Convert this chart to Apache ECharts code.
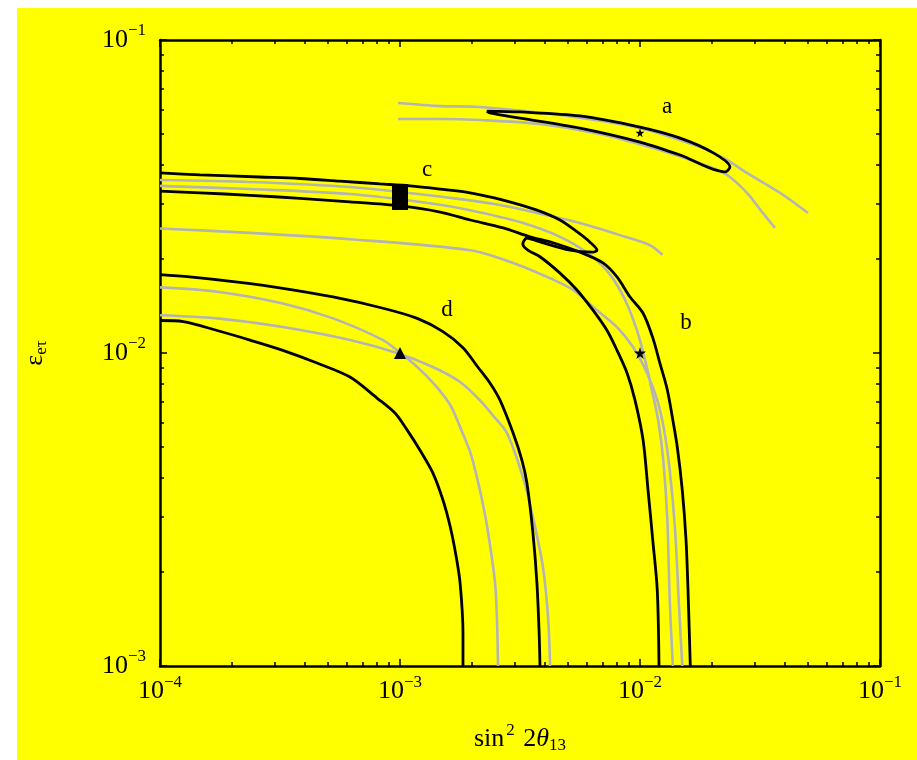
<!DOCTYPE html>
<html>
<head>
<meta charset="utf-8">
<title>sin^2 2theta13 vs eps_etau</title>
<script src="https://cdn.jsdelivr.net/npm/echarts@6/dist/echarts.min.js"></script>
<style>
    html, body { margin: 0; padding: 0; background: #fff; }
    #main { width: 917px; height: 760px; }
</style>
</head>
<body>
<div id="main"></div>
<script>
// contours, points are [sin^2 2theta13, eps_etau]
var aBlack = [[2.30e-3, 5.93e-2], [3.16e-3, 5.89e-2], [5.62e-3, 5.72e-2], [1.0e-2, 5.27e-2], [1.47e-2, 4.86e-2],
    [2.02e-2, 4.36e-2], [2.37e-2, 3.93e-2], [2.26e-2, 3.79e-2], [1.47e-2, 4.29e-2], [1.0e-2, 4.72e-2],
    [5.62e-3, 5.23e-2], [3.16e-3, 5.63e-2], [2.37e-3, 5.85e-2], [2.30e-3, 5.93e-2]];
var aGray1 = [[9.81e-4, 6.29e-2], [1.47e-3, 6.15e-2], [2.15e-3, 6.11e-2], [4.64e-3, 5.76e-2], [1.0e-2, 5.23e-2],
    [1.78e-2, 4.55e-2], [2.30e-2, 4.14e-2], [2.79e-2, 3.76e-2], [3.83e-2, 3.25e-2], [5.01e-2, 2.80e-2]];
var aGray2 = [[9.81e-4, 5.59e-2], [1.47e-3, 5.59e-2], [2.15e-3, 5.55e-2], [3.83e-3, 5.39e-2], [6.81e-3, 5.01e-2],
    [1.21e-2, 4.45e-2], [1.96e-2, 3.93e-2], [2.30e-2, 3.71e-2], [2.79e-2, 3.25e-2], [3.25e-2, 2.80e-2], [3.65e-2, 2.51e-2]];

var cbBlack1 = [[1.0e-4, 3.76e-2], [1.47e-4, 3.71e-2], [2.61e-4, 3.65e-2], [3.83e-4, 3.61e-2], [5.62e-4, 3.54e-2],
    [8.25e-4, 3.47e-2], [1.10e-3, 3.42e-2], [1.47e-3, 3.34e-2], [1.96e-3, 3.25e-2], [2.69e-3, 3.08e-2],
    [3.72e-3, 2.86e-2], [4.64e-3, 2.66e-2], [5.46e-3, 2.44e-2], [6.19e-3, 2.26e-2], [6.62e-3, 2.13e-2],
    [6.37e-3, 2.10e-2], [5.11e-3, 2.13e-2], [3.72e-3, 2.28e-2], [3.38e-3, 2.33e-2], [3.25e-3, 2.23e-2],
    [3.41e-3, 2.13e-2], [3.83e-3, 2.03e-2], [4.64e-3, 1.80e-2], [5.46e-3, 1.59e-2], [6.37e-3, 1.37e-2],
    [7.29e-3, 1.18e-2], [8.02e-3, 1.02e-2], [8.83e-3, 8.63e-3], [9.53e-3, 7.07e-3], [1.03e-2, 5.27e-3],
    [1.08e-2, 3.65e-3], [1.13e-2, 2.53e-3], [1.18e-2, 1.75e-3], [1.20e-2, 1.0e-3]];
var cbBlack2 = [[1.0e-4, 3.29e-2], [1.47e-4, 3.25e-2], [2.37e-4, 3.19e-2], [3.83e-4, 3.12e-2], [6.19e-4, 3.04e-2],
    [1.0e-3, 2.95e-2], [1.47e-3, 2.82e-2], [1.96e-3, 2.66e-2], [2.69e-3, 2.51e-2], [3.48e-3, 2.35e-2],
    [4.34e-3, 2.25e-2], [5.62e-3, 2.10e-2], [7.01e-3, 1.94e-2], [8.02e-3, 1.75e-2], [9.09e-3, 1.51e-2],
    [1.03e-2, 1.34e-2], [1.13e-2, 1.12e-2], [1.21e-2, 9.29e-3], [1.30e-2, 7.62e-3], [1.37e-2, 6.11e-3],
    [1.43e-2, 5.01e-3], [1.50e-2, 3.65e-3], [1.555e-2, 2.53e-3], [1.585e-2, 1.75e-3], [1.62e-2, 1.0e-3]];
var cbGray1 = [[1.0e-4, 3.57e-2], [2.37e-4, 3.52e-2], [6.19e-4, 3.39e-2], [1.62e-3, 3.13e-2], [2.61e-3, 2.97e-2],
    [3.72e-3, 2.80e-2], [5.62e-3, 2.60e-2], [8.25e-3, 2.38e-2], [1.10e-2, 2.21e-2], [1.24e-2, 2.06e-2]];
var cbGray2 = [[1.0e-4, 3.42e-2], [2.37e-4, 3.34e-2], [6.19e-4, 3.22e-2], [1.33e-3, 3.01e-2], [1.96e-3, 2.86e-2],
    [3.16e-3, 2.62e-2], [4.64e-3, 2.35e-2], [6.19e-3, 2.06e-2], [7.50e-3, 1.78e-2], [8.66e-3, 1.48e-2],
    [9.72e-3, 1.18e-2], [1.05e-2, 9.50e-3], [1.12e-2, 7.62e-3], [1.19e-2, 6.11e-3], [1.25e-2, 4.55e-3],
    [1.30e-2, 2.93e-3], [1.33e-2, 1.62e-3], [1.37e-2, 1.0e-3]];
var cbGray3 = [[1.0e-4, 2.50e-2], [2.37e-4, 2.42e-2], [6.19e-4, 2.31e-2], [1.96e-3, 2.13e-2], [2.96e-3, 1.94e-2],
    [4.10e-3, 1.75e-2], [5.26e-3, 1.59e-2], [6.62e-3, 1.37e-2], [8.02e-3, 1.21e-2], [9.35e-3, 1.045e-2],
    [1.07e-2, 8.63e-3], [1.18e-2, 7.07e-3], [1.26e-2, 5.68e-3], [1.33e-2, 4.23e-3], [1.40e-2, 2.72e-3],
    [1.45e-2, 1.62e-3], [1.50e-2, 1.0e-3]];

var dBlack1 = [[1.0e-4, 1.78e-2], [1.33e-4, 1.75e-2], [2.02e-4, 1.69e-2], [3.25e-4, 1.61e-2], [5.26e-4, 1.51e-2],
    [8.50e-4, 1.39e-2], [1.18e-3, 1.29e-2], [1.51e-3, 1.17e-2], [1.83e-3, 1.04e-2], [2.11e-3, 9.02e-3],
    [2.37e-3, 8.02e-3], [2.61e-3, 7.07e-3], [2.96e-3, 5.55e-3], [3.22e-3, 4.55e-3], [3.38e-3, 3.84e-3],
    [3.58e-3, 2.66e-3], [3.72e-3, 1.84e-3], [3.80e-3, 1.27e-3], [3.83e-3, 1.0e-3]];
var dBlack2 = [[1.0e-4, 1.27e-2], [1.25e-4, 1.26e-2], [1.73e-4, 1.18e-2], [2.37e-4, 1.10e-2], [3.25e-4, 1.02e-2],
    [4.51e-4, 9.29e-3], [6.19e-4, 8.38e-3], [8.02e-4, 7.18e-3], [9.53e-4, 6.43e-3], [1.07e-3, 5.68e-3],
    [1.21e-3, 4.90e-3], [1.37e-3, 4.14e-3], [1.51e-3, 3.39e-3], [1.62e-3, 2.78e-3], [1.71e-3, 2.26e-3],
    [1.78e-3, 1.84e-3], [1.83e-3, 1.27e-3], [1.83e-3, 1.0e-3]];
var dGray1 = [[1.0e-4, 1.62e-2], [1.73e-4, 1.57e-2], [3.25e-4, 1.44e-2], [5.26e-4, 1.29e-2], [8.50e-4, 1.10e-2],
    [9.72e-4, 1.02e-2], [1.18e-3, 9.02e-3], [1.40e-3, 7.90e-3], [1.62e-3, 6.82e-3], [1.78e-3, 5.80e-3],
    [1.96e-3, 4.83e-3], [2.09e-3, 4.02e-3], [2.22e-3, 3.27e-3], [2.33e-3, 2.66e-3], [2.49e-3, 1.84e-3],
    [2.54e-3, 1.35e-3], [2.56e-3, 1.0e-3]];
var dGray2 = [[1.0e-4, 1.32e-2], [1.73e-4, 1.29e-2], [3.25e-4, 1.21e-2], [6.19e-4, 1.10e-2], [9.72e-4, 1.0e-2],
    [1.37e-3, 9.02e-3], [1.78e-3, 8.08e-3], [2.15e-3, 7.07e-3], [2.49e-3, 6.20e-3], [2.79e-3, 5.55e-3],
    [3.25e-3, 4.02e-3], [3.58e-3, 2.99e-3], [3.94e-3, 2.07e-3], [4.14e-3, 1.43e-3], [4.22e-3, 1.0e-3]];

// best-fit points
var markerNames = ['a', 'b', 'c', 'd'];
var markerX = [1e-2, 1e-2, 1e-3, 1e-3];
var markerY = [5.05e-2, 1e-2, 3.15e-2, 1e-2];

// ticks
var xDecades = [1e-4, 1e-3, 1e-2, 1e-1];
var yDecades = [1e-3, 1e-2, 1e-1];

var black = '#000000';
var gray = '#b4b4b4';
var serif = 'Liberation Serif';
var star = 'path://M50,0 L61,35 L98,35 L68,57 L79,91 L50,70 L21,91 L32,57 L2,35 L39,35 Z';

var markerStyle = {
    a: {symbol: star, size: 9, offset: [27, -26]},
    b: {symbol: star, size: 12, offset: [46, -30]},
    c: {symbol: 'rect', size: [16, 26], offset: [27, -27]},
    d: {symbol: 'triangle', size: 12, offset: [47, -43]}
};

function minorTicks(dec) {
    var out = [];
    for (var i = 0; i < dec.length - 1; i++) {
        for (var k = 2; k <= 9; k++) {
            out.push(dec[i] * k);
        }
    }
    return out;
}

var labelRich = {
    b: {fontFamily: serif, fontSize: 26, color: '#000'},
    s: {fontFamily: serif, fontSize: 17, color: '#000', padding: [0, 0, 18, 0]}
};

function decadeLabel(v) {
    return '{b|10}{s|\u2212' + Math.round(-Math.log10(v)) + '}';
}

function axis(pos, min, max, ticks, len, label) {
    var a = {
        type: 'log',
        logBase: 10,
        min: min,
        max: max,
        position: pos,
        splitLine: {show: false},
        axisLine: {show: label !== undefined, onZero: false, lineStyle: {color: black, width: 2.5}},
        axisTick: {show: true, inside: true, length: len, customValues: ticks, lineStyle: {color: black, width: 1.5}},
        axisLabel: {show: false}
    };
    if (label) {
        a.axisLabel = {
            show: true,
            customValues: ticks,
            margin: pos === 'bottom' ? 8 : 14,
            formatter: decadeLabel,
            rich: labelRich
        };
    }
    return a;
}

var xMajor = axis('bottom', 1e-4, 1e-1, xDecades, 7, true);
xMajor.name = '{t|sin}{sup|2}{t| 2}{it|\u03b8}{sub|13}';
xMajor.nameLocation = 'middle';
xMajor.nameGap = 56;
xMajor.nameTextStyle = {
    rich: {
        t: {fontFamily: serif, fontSize: 26, color: '#000'},
        it: {fontFamily: serif, fontSize: 26, fontStyle: 'italic', color: '#000'},
        sup: {fontFamily: serif, fontSize: 17, color: '#000', padding: [0, 2, 18, 2]},
        sub: {fontFamily: serif, fontSize: 17, color: '#000', padding: [12, 0, 0, 0]}
    }
};

var yMajor = axis('left', 1e-3, 1e-1, yDecades, 7, true);
yMajor.name = '{t|\u03b5}{sub|e\u03c4}';
yMajor.nameLocation = 'middle';
yMajor.nameRotate = 90;
yMajor.nameGap = 110;
yMajor.nameTextStyle = {
    rich: {
        t: {fontFamily: serif, fontSize: 26, color: '#000'},
        sub: {fontFamily: serif, fontSize: 17, color: '#000', padding: [12, 0, 0, 0]}
    }
};

var lines = [
    [aGray1, gray], [aGray2, gray],
    [cbGray1, gray], [cbGray2, gray], [cbGray3, gray],
    [dGray1, gray], [dGray2, gray],
    [aBlack, black], [cbBlack1, black], [cbBlack2, black],
    [dBlack1, black], [dBlack2, black]
];

var series = lines.map(function (l) {
    return {
        type: 'line',
        data: l[0],
        symbol: 'none',
        smooth: 0.3,
        silent: true,
        z: l[1] === black ? 3 : 2,
        lineStyle: {color: l[1], width: l[1] === black ? 2.8 : 2.6}
    };
});

series.push({
    type: 'scatter',
    z: 5,
    silent: true,
    data: markerNames.map(function (n, i) {
        var st = markerStyle[n];
        return {
            name: n,
            value: [markerX[i], markerY[i]],
            symbol: st.symbol,
            symbolSize: st.size,
            label: {
                show: true,
                formatter: n,
                position: 'inside',
                offset: st.offset,
                fontFamily: serif,
                fontSize: 23,
                color: '#000'
            }
        };
    }),
    itemStyle: {color: black, opacity: 1}
});

var myChart = echarts.init(document.getElementById('main'));
var option = {
    animation: false,
    backgroundColor: '#ffffff',
    graphic: [{
        type: 'rect',
        z: -10,
        shape: {x: 17, y: 8, width: 900, height: 752},
        style: {fill: '#ffff00'}
    }],
    grid: {left: 160, right: 37, top: 40, bottom: 94},
    xAxis: [
        xMajor,
        axis('bottom', 1e-4, 1e-1, minorTicks(xDecades), 4),
        axis('top', 1e-4, 1e-1, xDecades, 7, false),
        axis('top', 1e-4, 1e-1, minorTicks(xDecades), 4)
    ],
    yAxis: [
        yMajor,
        axis('left', 1e-3, 1e-1, minorTicks(yDecades), 4),
        axis('right', 1e-3, 1e-1, yDecades, 7, false),
        axis('right', 1e-3, 1e-1, minorTicks(yDecades), 4)
    ],
    series: series
};
myChart.setOption(option);
</script>
</body>
</html>
